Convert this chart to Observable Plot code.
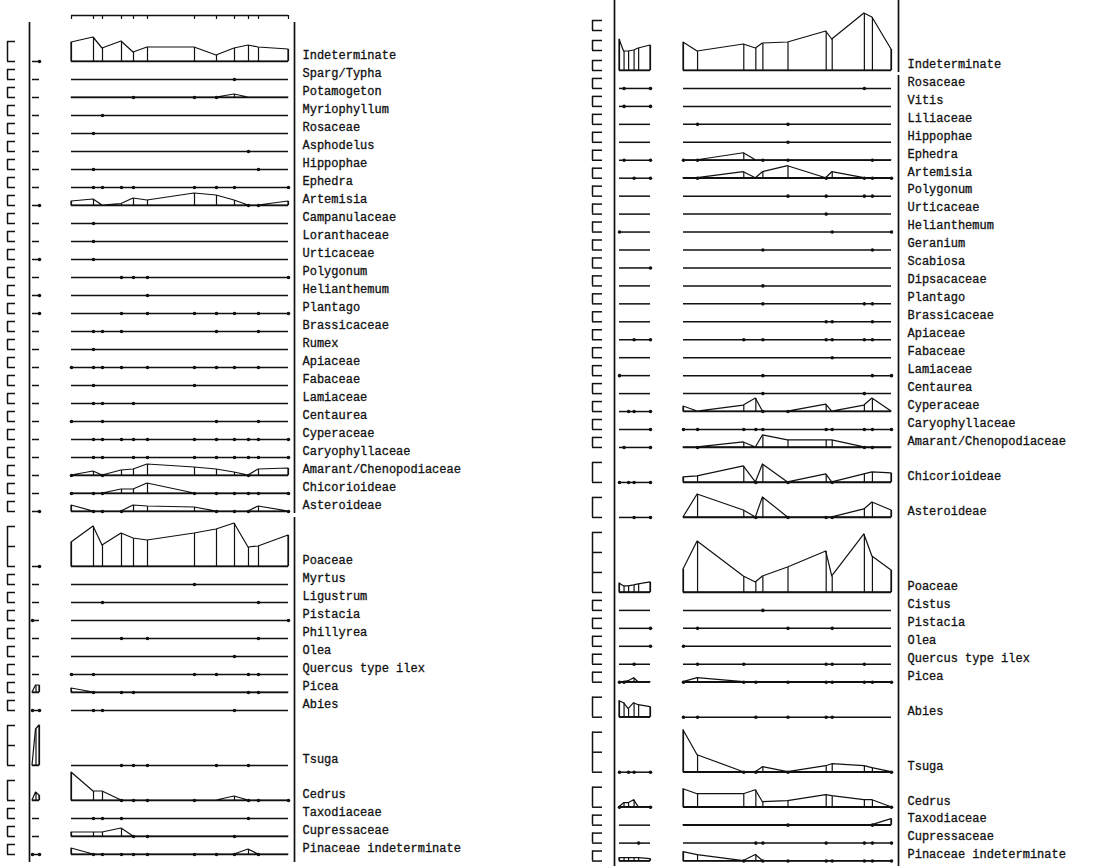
<!DOCTYPE html>
<html><head><meta charset="utf-8">
<script src="https://cdn.jsdelivr.net/npm/d3@7"></script>
<script src="https://cdn.jsdelivr.net/npm/@observablehq/plot@0.6"></script>
<style>
body{margin:0;background:#fff}
#chart{position:relative;width:1115px;height:866px;overflow:hidden;background:#fff}
#chart svg{position:absolute;top:0;overflow:visible;max-width:none!important;background:transparent!important}
</style></head><body><div id="chart"></div><script>
const T = 0.5; // trace (< 1 %), shown as a dot on the baseline

// ---------- LEFT DIAGRAM ----------
const leftTaxa = ["Indeterminate","Sparg/Typha","Potamogeton","Myriophyllum","Rosaceae","Asphodelus","Hippophae","Ephedra","Artemisia","Campanulaceae","Loranthaceae","Urticaceae","Polygonum","Helianthemum","Plantago","Brassicaceae","Rumex","Apiaceae","Fabaceae","Lamiaceae","Centaurea","Cyperaceae","Caryophyllaceae","Amarant/Chenopodiaceae","Chicorioideae","Asteroideae","Poaceae","Myrtus","Ligustrum","Pistacia","Phillyrea","Olea","Quercus type ilex","Picea","Abies","Tsuga","Cedrus","Taxodiaceae","Cupressaceae","Pinaceae indeterminate"];
const leftMainDepths = [0,22,31,50,62,76,123,145,163,177,187,217];
const leftMainValues = [
 [19,24,13,20,9,14,14,6,13,16,14,12],
 [0,0,0,0,0,0,0,0,T,0,0,0],
 [0,0,0,0,T,0,T,T,3,0,0,0],
 [0,0,T,0,0,0,0,0,0,0,0,0],
 [0,T,0,0,0,0,0,0,0,0,0,0],
 [0,0,0,0,0,0,0,0,0,T,0,0],
 [0,T,0,0,0,0,0,0,0,0,T,0],
 [0,T,T,T,T,0,T,T,T,0,0,T],
 [4,6,0,1.5,7,5,12,10,5,T,T,4],
 [0,T,0,0,0,0,0,0,0,0,0,0],
 [0,T,0,0,0,0,0,0,0,0,0,0],
 [0,T,0,0,0,0,0,0,0,0,0,0],
 [0,0,0,T,T,T,0,0,0,0,0,T],
 [0,0,0,0,0,T,0,0,0,0,0,0],
 [0,0,0,T,0,T,T,T,T,0,T,T],
 [0,T,T,T,0,0,0,T,0,0,T,0],
 [0,T,0,0,0,0,0,0,0,0,0,0],
 [T,T,T,T,0,T,T,T,T,0,T,0],
 [0,T,0,0,0,0,T,0,0,0,0,0],
 [0,T,T,0,T,0,0,0,0,0,0,0],
 [T,0,T,0,0,0,0,T,0,0,T,0],
 [0,T,T,T,T,T,T,T,T,T,T,T],
 [0,T,T,0,T,T,T,T,T,T,T,T],
 [T,4,T,5,6,11,8,6,3,T,6,7],
 [T,T,T,4,4,10,T,T,T,T,T,T],
 [6,T,T,T,6,5,4,T,T,T,5,T],
 [24,40,21,33,28,26,33,37,43,19,20,31],
 [0,0,0,0,0,0,T,0,0,0,0,0],
 [0,0,T,0,0,0,0,0,0,0,T,0],
 [0,0,0,0,0,0,0,0,0,0,0,T],
 [0,0,0,T,0,T,0,0,0,0,T,0],
 [0,0,0,0,0,0,0,0,T,0,0,0],
 [T,T,0,0,0,0,T,T,0,T,T,0],
 [4,T,0,T,T,0,0,0,0,T,T,0],
 [0,T,T,0,0,0,0,0,T,0,0,0],
 [0,0,0,T,T,T,0,T,0,T,0,0],
 [28,9,9,T,T,T,T,0,4,T,T,T],
 [0,T,T,T,0,0,0,0,0,T,0,0],
 [4,4,4,8,T,T,0,0,T,0,0,0],
 [6,T,T,T,T,T,T,T,T,5,T,0]
];
const leftColumnDepths = [0,1,2];
const leftColumnValues = [
 [0,0,T],[0,0,0],[0,0,0],[0,0,0],[0,0,0],[0,0,0],[0,0,0],[0,0,0],[0,0,T],[0,0,0],
 [0,0,0],[0,0,T],[0,0,0],[0,0,T],[0,0,T],[0,0,0],[0,0,0],[0,0,0],[0,0,0],[0,0,0],
 [0,0,0],[0,0,0],[0,0,0],[0,0,0],[0,0,0],[0,0,T],[0,0,T],[0,0,0],[0,0,0],[T,0,0],
 [0,0,0],[0,0,0],[0,0,0],[0,7,7],[T,0,T],[0,36,40],[0,8,5],[0,0,0],[0,0,0],[T,0,T]
];
// scale bars: [taxon, percent, repeats]; every other row uses 10 %
const leftScaleBars = [["Indeterminate",20,1],["Poaceae",40,1],["Tsuga",40,1],["Cedrus",20,1]];

// ---------- RIGHT DIAGRAM ----------
const rightTaxa = ["Indeterminate","Rosaceae","Vitis","Liliaceae","Hippophae","Ephedra","Artemisia","Polygonum","Urticaceae","Helianthemum","Geranium","Scabiosa","Dipsacaceae","Plantago","Brassicaceae","Apiaceae","Fabaceae","Lamiaceae","Centaurea","Cyperaceae","Caryophyllaceae","Amarant/Chenopodiaceae","Chicorioideae","Asteroideae","Poaceae","Cistus","Pistacia","Olea","Quercus type ilex","Picea","Abies","Tsuga","Cedrus","Taxodiaceae","Cupressaceae","Pinaceae indeterminate"];
const rightShortDepths = [0,5,10,16,21,34];
const rightShortValues = [
 [31,19,19,20,22,25],[0,T,0,0,0,T],[0,T,0,0,0,T],[0,0,0,0,0,0],[0,0,0,0,0,0],
 [0,T,0,0,0,T],[0,0,0,T,0,T],[0,0,0,0,0,0],[0,0,0,0,0,0],[T,0,0,0,0,0],
 [0,0,0,0,0,0],[0,0,0,0,0,T],[0,0,0,0,0,0],[0,0,0,0,0,0],[0,0,0,0,0,0],
 [0,0,0,T,0,T],[0,0,0,0,0,0],[T,0,0,0,0,0],[0,0,0,0,0,0],[0,0,T,T,0,T],
 [0,0,0,0,0,T],[0,T,0,0,0,T],[T,0,T,T,0,T],[0,0,0,T,0,T],[9,6,6,7,8,10],
 [0,0,0,0,0,0],[0,0,0,0,0,T],[0,0,0,0,0,T],[0,0,0,T,0,0],[T,T,1,4,0,0],
 [16,14,8,14,12,10],[T,0,T,T,0,T],[T,4,4,7,0,T],[0,0,0,0,0,0],[0,0,0,0,T,0],
 [3,3,3,3,3,2]
];
const rightMainDepths = [0,14,60,72,79,104,142,148,180,188,207];
const rightMainValues = [
 [28,19,26,22,27,28,39,31,57,53,21],
 [0,0,0,0,0,0,0,0,T,0,0],
 [0,0,0,0,0,0,0,0,0,0,0],
 [0,T,0,0,0,T,0,0,0,0,0],
 [0,0,0,0,0,T,0,0,0,0,0],
 [T,T,7,0,T,T,0,0,0,T,0],
 [0,T,6,0,6,12,T,6,T,T,T],
 [0,0,0,0,0,T,T,0,T,T,0],
 [0,0,0,0,0,0,T,0,0,0,0],
 [0,0,0,0,0,0,0,T,0,0,T],
 [0,0,0,0,T,0,0,0,0,T,0],
 [0,0,0,0,0,0,0,0,0,0,0],
 [0,0,0,0,T,0,0,0,0,0,0],
 [0,0,0,0,T,0,0,0,T,T,0],
 [0,0,0,0,0,0,T,T,0,T,0],
 [0,0,T,0,T,0,T,T,T,T,0],
 [0,0,0,0,0,0,0,T,0,0,0],
 [0,0,0,0,T,0,0,0,0,T,T],
 [0,0,0,0,T,0,0,0,T,0,0],
 [5,0,6,13,T,T,7,0,6,13,0],
 [T,T,T,T,T,0,T,T,T,T,T],
 [0,T,5,0,12,7,7,7,T,T,0],
 [5,6,16,T,18,T,8,T,8,10,9],
 [0,23,7,T,20,T,T,T,8,15,7],
 [23,51,16,10,16,25,41,16,58,36,22],
 [0,0,0,0,T,0,0,0,0,0,0],
 [0,T,0,0,0,T,0,T,0,0,0],
 [T,0,0,0,0,0,0,0,0,0,0],
 [0,T,T,0,0,0,T,T,T,0,0],
 [T,4,T,T,0,T,T,T,T,T,T],
 [T,T,0,T,0,T,T,T,0,0,0],
 [42,17,T,T,5,T,6,8,6,4,T],
 [18,13,13,17,5,6,12,11,7,7,T],
 [0,0,0,0,0,T,0,0,0,T,6],
 [0,0,0,T,T,0,T,0,T,T,T],
 [9,6,T,6,T,T,T,T,T,T,T]
];
const rightScaleBars = [["Indeterminate",10,3],["Chicorioideae",20,1],["Asteroideae",20,1],["Poaceae",60,1],["Abies",20,1],["Tsuga",40,1],["Cedrus",20,1]];

// ---------- LAYOUT ----------
const W = 1115, H = 866;
const FONT = "Liberation Mono, DejaVu Sans Mono, monospace";
const chartDiv = document.getElementById("chart");

function rowBases(taxa, bars, firstBase, row, extra) {
  const size = new Map(bars.map(([t, p, n]) => [t, p * (2 * n - 1)]));
  const out = new Map(); let y = firstBase;
  taxa.forEach((t, i) => {
    if (i) y += size.has(t) ? Math.max(row, size.get(t) + extra) : row;
    out.set(t, y);
  });
  return out;
}

const yScale = {domain: [0, H], range: [0, H], axis: null};

function curvePlot(taxa, bases, depths, values, x0, x1, extra = []) {
  const pad = 6;
  const rows = taxa.flatMap((t, i) => depths.map((d, j) => ({taxon: t, depth: d, value: values[i][j], base: bases.get(t)})));
  const silTaxa = new Set(rows.filter(r => r.value >= 1).map(r => r.taxon));
  const lo = d3.min(depths), hi = d3.max(depths);
  const svg = Plot.plot({
    width: x1 - x0 + 2 * pad, height: H,
    marginLeft: pad, marginRight: pad, marginTop: 0, marginBottom: 0,
    style: {background: "transparent"},
    x: {domain: [lo, hi], axis: null},
    y: yScale,
    marks: [
      Plot.areaY(rows.filter(r => silTaxa.has(r.taxon)), {
        x: "depth", y1: "base", y2: r => r.base - (r.value >= 1 ? r.value : 0), z: "taxon",
        fill: "white", stroke: "#111", strokeWidth: 1.2, curve: "linear"}),
      Plot.ruleY(taxa, {y: t => bases.get(t), x1: () => lo, x2: () => hi, stroke: "#111", strokeWidth: 1.5}),
      Plot.ruleX(rows.filter(r => r.value >= 1), {x: "depth", y1: "base", y2: r => r.base - r.value, stroke: "#111", strokeWidth: 1.2}),
      Plot.dot(rows.filter(r => r.value > 0 && r.value < 1), {x: "depth", y: "base", r: 1.8, fill: "#111", stroke: null}),
      ...extra.map(f => f(lo, hi))
    ]
  });
  svg.style.left = (x0 - pad) + "px";
  return svg;
}

function bracketMarks(taxa, bases, bars, bx, w) {
  const spec = new Map(bars.map(([t, p, n]) => [t, {p, n}]));
  const vert = [], ticks = [];
  for (const t of taxa) {
    const {p, n} = spec.get(t) ?? {p: 10, n: 1};
    const b = bases.get(t);
    for (let k = 0; k < n; k++) {
      const low = b - 2 * k * p;
      vert.push({y1: low, y2: low - p});
      const step = p >= 40 ? 20 : p;
      for (let v = 0; v <= p; v += step) ticks.push({y: low - v});
    }
  }
  return [
    Plot.ruleX(vert, {x: () => bx, y1: "y1", y2: "y2", stroke: "#111", strokeWidth: 1.5}),
    Plot.ruleY(ticks, {y: "y", x1: () => bx, x2: () => bx + w, stroke: "#111", strokeWidth: 1.5})
  ];
}

// panel geometry
const L = {base0: 61, row: 18, extra: 15, bracketX: 7, colLine: 29, colX: [32, 39], mainX: [71, 288], border: 294, labelX: 302, topBar: 15};
const R = {base0: 70, row: 17.95, extra: 15, bracketX: 592, colLine: 614, shortX: [619, 650], mainX: [683, 891], border: 898, labelX: 907};

const leftBases = rowBases(leftTaxa, leftScaleBars, L.base0, L.row, L.extra);
const rightBases = rowBases(rightTaxa, rightScaleBars, R.base0, R.row, R.extra);

const leftSplit = leftBases.get("Asteroideae");
const rightSplit = rightBases.get("Indeterminate");
const vLines = [
  {x: L.colLine, y1: 22, y2: H - 4},
  {x: L.border, y1: 22, y2: leftSplit + 2},
  {x: L.border, y1: leftSplit + 6, y2: H - 4},
  {x: R.colLine, y1: 0, y2: H},
  {x: R.border, y1: 0, y2: rightSplit + 2},
  {x: R.border, y1: rightSplit + 5, y2: H}
];

const labelStyle = {textAnchor: "start", fontFamily: FONT, fontSize: 12, fill: "#111", stroke: "#111", strokeWidth: 0.3};
const frame = Plot.plot({
  width: W, height: H, margin: 0,
  style: {background: "transparent"},
  x: {type: "identity", axis: null}, y: {type: "identity", axis: null},
  marks: [
    ...bracketMarks(leftTaxa, leftBases, leftScaleBars, L.bracketX, 8),
    ...bracketMarks(rightTaxa, rightBases, rightScaleBars, R.bracketX, 10),
    Plot.ruleX(vLines, {x: "x", y1: "y1", y2: "y2", stroke: "#111", strokeWidth: 1.7}),
    Plot.text(leftTaxa, {x: () => L.labelX, y: t => leftBases.get(t) - 6.5, text: d => d, ...labelStyle}),
    Plot.text(rightTaxa, {x: () => R.labelX, y: t => rightBases.get(t) - 6.5, text: d => d, ...labelStyle})
  ]
});
frame.style.left = "0px";
chartDiv.appendChild(frame);

// top bar with sample ticks over the left main diagram
const topBar = [
  (lo, hi) => Plot.ruleY([L.topBar], {y: d => d, x1: () => lo, x2: () => hi, stroke: "#111", strokeWidth: 1.5}),
  (lo, hi) => Plot.ruleX(leftMainDepths, {x: d => d, y1: () => L.topBar, y2: () => L.topBar + 4, stroke: "#111", strokeWidth: 1.2})
];

chartDiv.appendChild(curvePlot(leftTaxa, leftBases, leftColumnDepths, leftColumnValues, L.colX[0], L.colX[1]));
chartDiv.appendChild(curvePlot(leftTaxa, leftBases, leftMainDepths, leftMainValues, L.mainX[0], L.mainX[1], topBar));
chartDiv.appendChild(curvePlot(rightTaxa, rightBases, rightShortDepths, rightShortValues, R.shortX[0], R.shortX[1]));
chartDiv.appendChild(curvePlot(rightTaxa, rightBases, rightMainDepths, rightMainValues, R.mainX[0], R.mainX[1]));
</script></body></html>
